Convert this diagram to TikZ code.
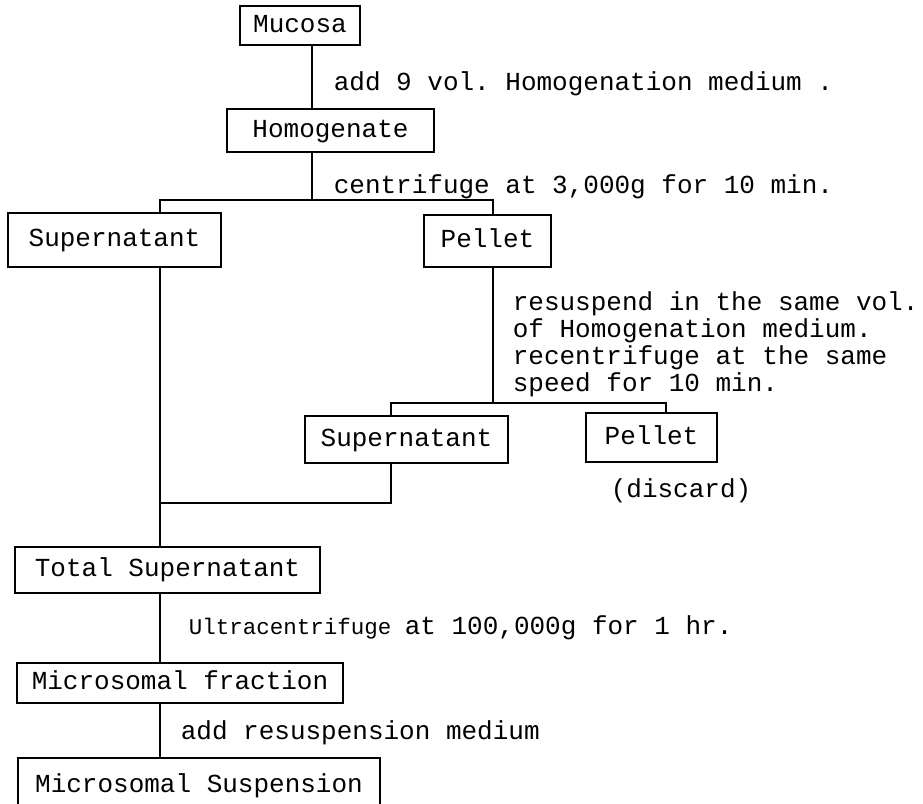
\documentclass[tikz,border=0pt]{standalone}
\usepackage{fontspec}
\setmainfont{Liberation Mono}
\frenchspacing
\begin{document}
\begin{tikzpicture}[x=1pt,y=-1pt, line width=1.6pt,
  box/.style={draw, line width=1.6pt, font=\fontsize{26}{27}\selectfont, text height=18pt, text depth=5pt, inner sep=0pt, anchor=center},
  lab/.style={font=\fontsize{26}{27}\selectfont, anchor=base west, inner sep=0pt, align=left}]
\useasboundingbox (0,0) rectangle (923,803);
\clip (0,0) rectangle (923,803);
% boxes
\node[box, minimum width=120pt, minimum height=39pt] (mucosa) at (300,25.5) {Mucosa};
\node[box, minimum width=207pt, minimum height=43pt] (homog) at (330.5,130.5) {Homogenate};
\node[box, minimum width=213pt, minimum height=54pt] (sup1) at (114.5,240) {Supernatant};
\node[box, minimum width=127pt, minimum height=52pt] (pel1) at (487.5,241) {Pellet};
\node[box, minimum width=203pt, minimum height=47pt] (sup2) at (406.5,439.5) {Supernatant};
\node[box, minimum width=131pt, minimum height=49pt] (pel2) at (651.5,437.5) {Pellet};
\node[box, minimum width=305pt, minimum height=46pt] (total) at (167.5,570) {Total Supernatant};
\node[box, minimum width=326pt, minimum height=40pt] (micf) at (180,683) {Microsomal fraction};
\node[box, minimum width=362pt, minimum height=55pt] (mics) at (199,785.5) {Microsomal Suspension};
% labels
\node[lab] (l1) at (333,90) {add 9 vol. Homogenation medium .};
\node[lab] (l2) at (333,193) {centrifuge at 3,000g for 10 min.};
\node[lab] (l3) at (512,391) {resuspend in the same vol.\\of Homogenation medium.\\recentrifuge at the same\\speed for 10 min.};
\node[lab] (l4) at (610,497) {(discard)};
\node[lab] (l5) at (188,634) {{\fontsize{22.5}{24}\selectfont Ultracentrifuge }at 100,000g for 1 hr.};
\node[lab] (l6) at (180,739) {add resuspension medium};
% junction coordinates
\coordinate (a) at (312,0);
\coordinate (s1) at (312,200);
\coordinate (x1) at (160,200);
\coordinate (x2) at (493,200);
\coordinate (s2) at (493,403);
\coordinate (x4) at (391,403);
\coordinate (x5) at (666,403);
\coordinate (j2) at (160,503);
\coordinate (x3) at (391,503);
% connectors
\draw (mucosa.south -| a) -- (homog.north -| a);
\draw (homog.south -| s1) -- (s1);
\draw (sup1.north -| x1) -- (x1) -- (x2) -- (pel1.north -| x2);
\draw (sup1.south -| x1) -- (total.north -| x1);
\draw (pel1.south -| s2) -- (s2);
\draw (sup2.north -| x4) -- (x4) -- (x5) -- (pel2.north -| x5);
\draw (sup2.south -| x3) -- (x3) -- (j2);
\draw (total.south -| x1) -- (micf.north -| x1);
\draw (micf.south -| x1) -- (mics.north -| x1);
\end{tikzpicture}
\end{document}
